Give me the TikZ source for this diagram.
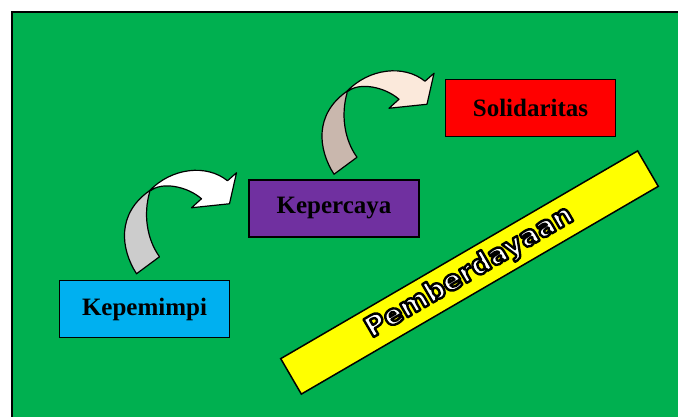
\documentclass[tikz,border=0pt]{standalone}
\usepackage{fontspec}
\setmainfont{Liberation Serif}
\newfontfamily\wordart{DejaVu Sans}
\usetikzlibrary{positioning,calc}
\definecolor{latar}{RGB}{0,176,80}
\definecolor{biru}{RGB}{0,176,240}
\definecolor{ungu}{RGB}{112,48,160}
\definecolor{merah}{RGB}{255,0,0}
\definecolor{kuning}{RGB}{255,255,0}
\definecolor{abu}{RGB}{204,204,204}
\definecolor{krem}{RGB}{251,233,219}
\definecolor{coklat}{RGB}{201,183,173}
% huruf putih bergaris tepi hitam
\newcommand\garistepi[1]{{\color{white}\special{pdf:literal direct q 2 Tr 2.4 w 0 G 1 j}#1\special{pdf:literal direct Q}}}
\tikzset{
  kotak/.style={draw=black, line width=1.5pt, minimum width=170pt, minimum height=57pt,
    inner sep=0pt, font=\bfseries\fontsize{25}{29}\selectfont},
  pita/.style={draw=black, line width=1.5pt, fill=kuning, minimum width=413pt,
    minimum height=41pt, inner sep=0pt, font=\wordart\bfseries\fontsize{28}{32}\selectfont},
  pics/lengkung/.style n args={2}{code={
    \filldraw[fill=#2, line width=1.2pt, line join=round]
      (0,0) .. controls (-16,-25) and (-20,-60) .. (13,-83) -- (13,-81)
      .. controls (7,-60) and (10,-35) .. (23,-17) -- cycle;
    \filldraw[fill=#1, line width=1.2pt, line join=round]
      (13,-83) .. controls (35,-106) and (70,-110) .. (91,-93) -- (100,-101)
      -- (93,-70) -- (55,-66) -- (65,-75) .. controls (50,-88) and (25,-92) .. (14,-83) -- cycle;
  }}
}

\begin{document}
\begin{tikzpicture}[x=1pt,y=-1pt]
  \useasboundingbox (0,0) rectangle (678,416);
  \clip (0,0) rectangle (678,416);
  \fill[white] (0,0) rectangle (678,416);
  \filldraw[fill=latar, draw=black, line width=1.5pt] (12,12) rectangle (700,440);

  \node[kotak, fill=biru] (kepemimpi) at (144.5,309) {Kepemimpi};
  \node[kotak, fill=ungu, above right=42pt and 18pt of kepemimpi] (kepercaya) {Kepercaya};
  \node[kotak, fill=merah, above right=42pt and 25pt of kepercaya] (solidaritas) {Solidaritas};

  \pic at ($(kepemimpi.north)+(-8,-6)$) {lengkung={white}{abu}};
  \pic at ($(kepercaya.north)+(0,-5)$) {lengkung={krem}{coklat}};

  \node[pita, rotate=30.2] (pemberdayaan) at (469.5,272.5) {\garistepi{Pemberdayaan}};
\end{tikzpicture}
\end{document}
